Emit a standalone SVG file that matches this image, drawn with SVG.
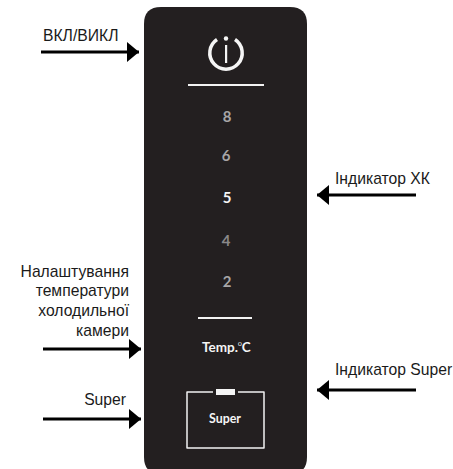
<svg xmlns="http://www.w3.org/2000/svg" width="453" height="469" viewBox="0 0 453 469">
<defs>
<marker id="ah" markerUnits="userSpaceOnUse" markerWidth="12" markerHeight="20" refX="12" refY="10" orient="auto"><path d="M0 0L12 10L0 20Z" fill="#000"/></marker>
</defs>
<style>
.lb{font-family:"Liberation Sans",Arial,sans-serif;font-size:15.7px;fill:#1a1a1a}
.e{text-anchor:end}
.n{font-family:"Lato","Liberation Sans",sans-serif;font-size:15px;font-weight:700;text-anchor:middle}
.c{stroke:#000;stroke-width:3;fill:none;marker-end:url(#ah)}
.w{stroke:#f2f2f2;fill:none}
.t{font-family:"Lato","Liberation Sans",sans-serif;fill:#f5f5f5}
</style>
<rect width="453" height="469" fill="#fff"/>
<g id="panel">
<path d="M144 24Q144 7 161 7H290Q307 7 307 24V457Q307 474 290 474H161Q144 474 144 457Z" fill="#231f20"/>
</g>
<g id="power">
<path d="M217 39.5A16.2 16.2 0 1 0 235 39.5" fill="none" stroke="#f5f5f5" stroke-width="3.5"/>
<rect x="225" y="45" width="2.2" height="18" fill="#f5f5f5"/>
<circle cx="226" cy="38.5" r="2.2" fill="#f5f5f5"/>
<path class="w" stroke-width="2" d="M188 85H264"/>
</g>
<g id="scale">
<text class="n" x="227" y="122" fill="#a7a5a6">8</text>
<text class="n" x="226" y="161" fill="#a7a5a6">6</text>
<text class="n" x="227" y="203" fill="#f5f5f5">5</text>
<text class="n" x="226" y="246" fill="#8a8889">4</text>
<text class="n" x="227" y="287" fill="#a7a5a6">2</text>
<path class="w" stroke-width="2" d="M198 318H252"/>
</g>
<g id="temp">
<text class="t" x="202" y="352" font-size="13.5" font-weight="700">Temp.<tspan dy="-6" font-size="6.5" font-weight="400">0</tspan><tspan dy="6">C</tspan></text>
</g>
<g id="super">
<path class="w" stroke-width="1.5" stroke-linejoin="round" d="M213 392H187V448H264V392H238"/>
<rect x="216" y="389" width="19" height="6" fill="#f5f5f5"/>
<text class="t" x="209" y="423" font-size="13" font-weight="700" textLength="32" lengthAdjust="spacingAndGlyphs">Super</text>
</g>
<g id="labels">
<text class="lb" x="43" y="41">ВКЛ/ВИКЛ</text>
<text class="lb e" x="129" y="277">Налаштування</text>
<text class="lb e" x="129" y="296">температури</text>
<text class="lb e" x="129" y="316">холодильної</text>
<text class="lb e" x="129" y="336">камери</text>
<text class="lb e" x="126" y="405">Super</text>
<text class="lb" x="335" y="184">Індикатор ХК</text>
<text class="lb" x="335" y="375">Індикатор Super</text>
</g>
<g id="connectors">
<path class="c" d="M41 52H139"/>
<path class="c" d="M43 349H141"/>
<path class="c" d="M43 419H141"/>
<path class="c" d="M416 195H317"/>
<path class="c" d="M416 390H317"/>
</g>
</svg>
